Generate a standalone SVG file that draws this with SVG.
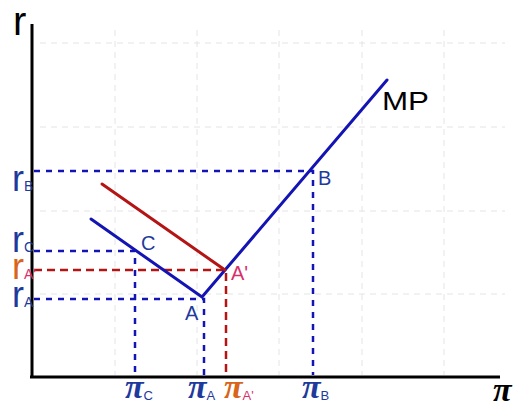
<svg xmlns="http://www.w3.org/2000/svg" width="519" height="403" viewBox="0 0 519 403">
<style>
.grid{stroke:#e4e4e4;stroke-width:1;stroke-dasharray:6 5;fill:none}
.axis{stroke:#000;stroke-width:3;fill:none}
.blue{stroke:#1414b4;stroke-width:3;fill:none;stroke-linecap:round}
.red{stroke:#b41414;stroke-width:3;fill:none;stroke-linecap:round}
.bd{stroke:#1414b4;stroke-width:2.5;stroke-dasharray:6 6;fill:none}
.rd{stroke:#b41414;stroke-width:2.5;stroke-dasharray:8 5;fill:none}
.lab{font-family:"Liberation Sans",Arial,sans-serif}
.rl{font-size:36px}
.sub{font-size:14px}
.pi{font-family:"Liberation Serif","Times New Roman",serif;font-size:34px;font-weight:bold;font-style:italic}
.ps{font-family:"Liberation Sans",Arial,sans-serif;font-size:13px;font-weight:normal;font-style:normal}
.cb{fill:#1e3a9c}
.co{fill:#d8651a}
.cp{fill:#d8306c}
</style>
<g id="grid">
<path class="grid" d="M115 30V375M197 30V375M279 30V375M362 30V375M444 30V375M40 43H505M40 127H505M40 211H505M40 294H505"/>
</g>
<g id="axes">
<path class="axis" d="M32 24V378M30 377H500"/>
</g>
<g id="connectors">
<path class="bd" d="M34 171H313V375"/>
<path class="bd" d="M34 251H135V375"/>
<path class="bd" d="M34 299H204V375"/>
<path class="rd" d="M34 270H226V375"/>
</g>
<g id="curves">
<path class="blue" d="M91 219L202 297L387 80"/>
<path class="red" d="M102 184L225 270"/>
</g>
<g id="labels" class="lab">
<text x="13" y="35" font-size="40">r</text>
<text x="12" y="191" class="rl cb">r<tspan class="sub" dy="0">B</tspan></text>
<text x="12" y="252" class="rl cb">r<tspan class="sub" dy="0">C</tspan></text>
<text x="12" y="279" class="rl co">r<tspan class="sub cp" dy="0">A'</tspan></text>
<text x="12" y="307" class="rl cb">r<tspan class="sub" dy="0">A</tspan></text>
<text x="141" y="250" font-size="20" class="cb">C</text>
<text x="231" y="280" font-size="20" class="cp">A'</text>
<text x="185" y="320" font-size="20" class="cb">A</text>
<text x="318" y="185" font-size="20" class="cb">B</text>
<text x="382" y="110" font-size="26" textLength="47" lengthAdjust="spacingAndGlyphs">MP</text>
<text x="125" y="398" class="pi cb">π<tspan class="ps" dy="2">C</tspan></text>
<text x="188" y="398" class="pi cb">π<tspan class="ps" dy="2">A</tspan></text>
<text x="224" y="398" class="pi co">π<tspan class="ps cp" dy="2">A'</tspan></text>
<text x="302" y="398" class="pi cb">π<tspan class="ps" dy="2">B</tspan></text>
<text x="493" y="401" class="pi" font-weight="normal">π</text>
</g>
</svg>
